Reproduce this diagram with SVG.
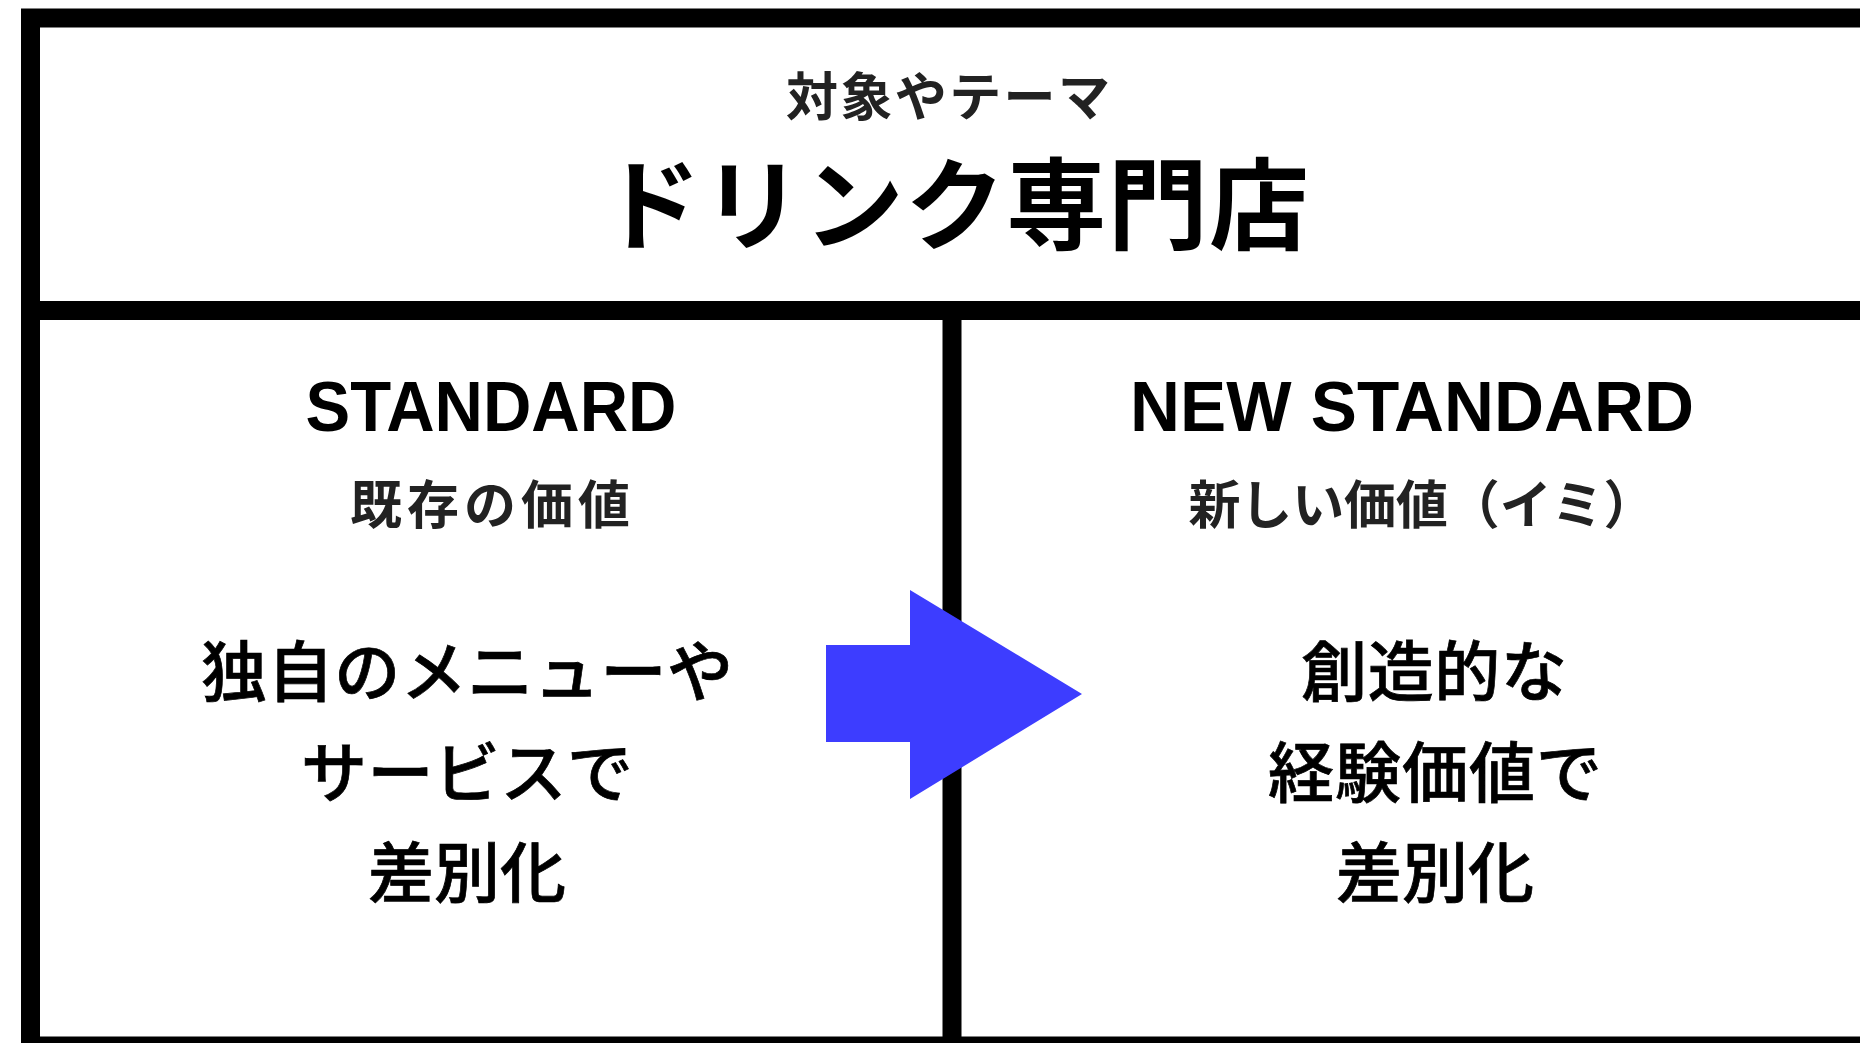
<svg xmlns="http://www.w3.org/2000/svg" width="1860" height="1043" viewBox="0 0 1860 1043">
<style>
.frame{fill:none;stroke:#000;stroke-width:19}
.jp{font-family:"Noto Sans CJK JP","Noto Sans CJK SC",sans-serif;text-anchor:middle}
.en{font-family:"Liberation Sans","DejaVu Sans",sans-serif;font-weight:bold;text-anchor:middle;fill:#000}
.sub{font-size:52px;font-weight:bold;fill:#222}
.body{font-size:66px;font-weight:500;fill:#000;stroke:#000;stroke-width:0.7}
</style>
<rect width="1860" height="1043" fill="#fff"/>
<g id="frame">
<rect class="frame" x="30.5" y="18" width="1900" height="1028"/>
<line class="frame" x1="30" y1="310.5" x2="1860" y2="310.5"/>
<line class="frame" x1="952" y1="310" x2="952" y2="1043"/>
</g>
<g id="header">
<text class="jp sub" x="948" y="116" textLength="324" lengthAdjust="spacing">対象やテーマ</text>
<text class="jp" x="955" y="242" font-size="100" font-weight="bold" fill="#000" textLength="708" lengthAdjust="spacing">ドリンク専門店</text>
</g>
<g id="standard">
<text class="en" x="491" y="431" font-size="71" textLength="371" lengthAdjust="spacingAndGlyphs">STANDARD</text>
<text class="jp sub" x="490" y="524" textLength="280" lengthAdjust="spacing">既存の価値</text>
<text class="jp body" x="467" y="696" textLength="532" lengthAdjust="spacing">独自のメニューや</text>
<text class="jp body" x="467" y="797" textLength="332" lengthAdjust="spacing">サービスで</text>
<text class="jp body" x="467" y="897" textLength="198" lengthAdjust="spacing">差別化</text>
</g>
<g id="new-standard">
<text class="en" x="1412" y="431" font-size="71" textLength="564" lengthAdjust="spacingAndGlyphs">NEW STANDARD</text>
<text class="jp sub" x="1422" y="524" textLength="467" lengthAdjust="spacing">新しい価値（イミ）</text>
<text class="jp body" x="1434" y="696" textLength="266" lengthAdjust="spacing">創造的な</text>
<text class="jp body" x="1435" y="797" textLength="334" lengthAdjust="spacing">経験価値で</text>
<text class="jp body" x="1435" y="897" textLength="198" lengthAdjust="spacing">差別化</text>
</g>
<g id="connectors">
<polygon points="826,645 910,645 910,590 1082,694 910,799 910,742 826,742" fill="#3d3dff"/>
</g>
</svg>
